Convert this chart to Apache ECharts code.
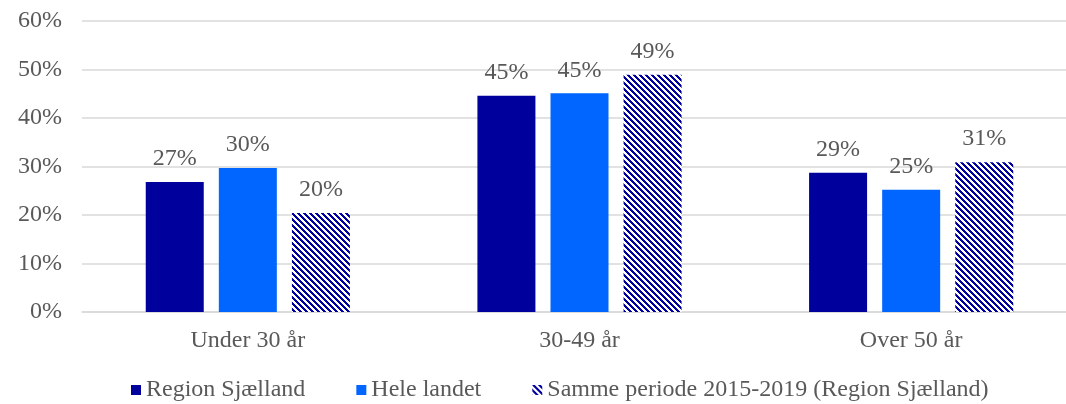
<!DOCTYPE html>
<html>
<head>
<meta charset="utf-8">
<script src="https://cdn.jsdelivr.net/npm/echarts@6/dist/echarts.min.js"></script>
<style>
    html, body { margin: 0; padding: 0; background: #fff; }
    #chart { width: 1066px; height: 404px; }
</style>
</head>
<body>
<div id="chart"></div>
<script>
// data (percent)
var categories = ['Under 30 år', '30-49 år', 'Over 50 år'];
var seriesNames = ['Region Sjælland', 'Hele landet', 'Samme periode 2015-2019 (Region Sjælland)'];
var regionValues = [26.8, 44.6, 28.7];
var landetValues = [29.7, 45.1, 25.2];
var periodValues = [20.4, 48.9, 30.9];
var yTicks = [0, 10, 20, 30, 40, 50, 60];

var textColor = '#595959';
var fontFamily = '"Liberation Serif", "Times New Roman", serif';

// diagonal hatch for the 2015-2019 series
function makeHatch() {
    var size = 6;
    var cv = document.createElement('canvas');
    cv.width = size;
    cv.height = size;
    var ctx = cv.getContext('2d');
    var img = ctx.createImageData(size, size);
    for (var y = 0; y < size; y++) {
        for (var x = 0; x < size; x++) {
            var i = (y * size + x) * 4;
            var dark = (((x - y) % size) + size) % size < 3;
            img.data[i] = dark ? 0 : 255;
            img.data[i + 1] = dark ? 0 : 255;
            img.data[i + 2] = dark ? 160 : 255;
            img.data[i + 3] = 255;
        }
    }
    ctx.putImageData(img, 0, 0);
    return cv;
}

var myChart = echarts.init(document.getElementById('chart'));

var barLabel = {
    show: true,
    position: 'top',
    distance: 11,
    color: textColor,
    fontFamily: fontFamily,
    fontSize: 24,
    formatter: function (p) { return Math.round(p.value) + '%'; }
};

var option = {
    animation: false,
    textStyle: { fontFamily: fontFamily },
    grid: {
        left: 82,
        top: 21,
        bottom: 92,
        width: 995,
        outerBoundsMode: 'none'
    },
    legend: {
        left: 126,
        top: 373,
        itemWidth: 10,
        itemHeight: 10,
        itemGap: 51,
        icon: 'rect',
        textStyle: {
            color: textColor,
            fontFamily: fontFamily,
            fontSize: 24
        },
        data: seriesNames
    },
    xAxis: {
        type: 'category',
        data: categories,
        axisTick: { show: false },
        axisLine: { lineStyle: { color: '#d9d9d9', width: 1.5 } },
        axisLabel: {
            color: textColor,
            fontFamily: fontFamily,
            fontSize: 24,
            margin: 17
        }
    },
    yAxis: {
        type: 'value',
        min: yTicks[0],
        max: yTicks[yTicks.length - 1],
        interval: 10,
        axisLine: { show: false },
        axisTick: { show: false },
        splitLine: { lineStyle: { color: '#d9d9d9', width: 1.5 } },
        axisLabel: {
            color: textColor,
            fontFamily: fontFamily,
            fontSize: 24,
            margin: 20,
            formatter: '{value}%'
        }
    },
    series: [
        {
            name: seriesNames[0],
            type: 'bar',
            barWidth: 58,
            barGap: '26%',
            itemStyle: { color: '#00009C' },
            label: barLabel,
            data: regionValues
        },
        {
            name: seriesNames[1],
            type: 'bar',
            barWidth: 58,
            barGap: '26%',
            itemStyle: { color: '#0066FF' },
            label: barLabel,
            data: landetValues
        },
        {
            name: seriesNames[2],
            type: 'bar',
            barWidth: 58,
            barGap: '26%',
            itemStyle: { color: { image: makeHatch(), repeat: 'repeat' } },
            label: barLabel,
            data: periodValues
        }
    ]
};

myChart.setOption(option);
</script>
</body>
</html>
